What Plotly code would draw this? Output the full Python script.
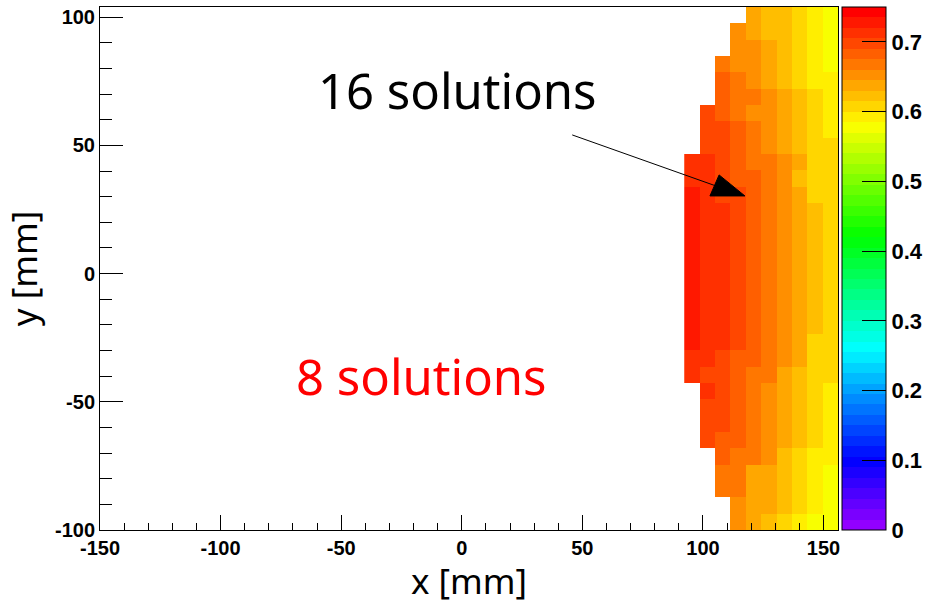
import colorsys
import plotly.graph_objects as go

# Histogram binning (mm): 48 x-bins on [-150, 156], 32 y-bins on [-100, 104]
BIN_W = 6.375
X_MIN, X_MAX = -150.0, 156.0
Y_MIN, Y_MAX = -100.0, 104.0
FIRST_FILLED_XBIN = 38          # bins left of this are empty
Z_MAX = 0.75

N = None
# Efficiency per bin; one row per y-bin (bottom to top), columns = x-bins 38..47
z_rows = [
    [N,     N,     N,     0.653, 0.638, 0.623, 0.608, 0.593, 0.578, 0.578],
    [N,     N,     N,     0.653, 0.638, 0.638, 0.623, 0.608, 0.593, 0.578],
    [N,     N,     0.668, 0.668, 0.638, 0.638, 0.623, 0.608, 0.593, 0.578],
    [N,     N,     0.668, 0.668, 0.638, 0.638, 0.623, 0.608, 0.593, 0.578],
    [N,     N,     0.683, 0.668, 0.668, 0.653, 0.623, 0.608, 0.593, 0.593],
    [N,     0.698, 0.683, 0.683, 0.668, 0.653, 0.638, 0.623, 0.608, 0.593],
    [N,     0.698, 0.698, 0.683, 0.668, 0.653, 0.638, 0.623, 0.608, 0.593],
    [N,     0.698, 0.698, 0.683, 0.668, 0.653, 0.638, 0.623, 0.608, 0.593],
    [N,     0.713, 0.698, 0.683, 0.668, 0.653, 0.638, 0.623, 0.608, 0.593],
    [0.713, 0.698, 0.698, 0.683, 0.668, 0.668, 0.638, 0.623, 0.608, 0.608],
    [0.713, 0.713, 0.698, 0.683, 0.683, 0.668, 0.653, 0.638, 0.608, 0.608],
    [0.728, 0.713, 0.713, 0.698, 0.683, 0.668, 0.653, 0.638, 0.608, 0.608],
    [0.728, 0.713, 0.713, 0.698, 0.683, 0.668, 0.653, 0.638, 0.623, 0.608],
    [0.728, 0.713, 0.713, 0.698, 0.683, 0.668, 0.653, 0.638, 0.623, 0.608],
    [0.728, 0.713, 0.713, 0.698, 0.683, 0.668, 0.653, 0.638, 0.623, 0.608],
    [0.728, 0.713, 0.713, 0.698, 0.683, 0.668, 0.653, 0.638, 0.623, 0.608],
    [0.728, 0.713, 0.713, 0.698, 0.683, 0.668, 0.653, 0.638, 0.623, 0.608],
    [0.728, 0.713, 0.713, 0.698, 0.683, 0.668, 0.653, 0.638, 0.623, 0.608],
    [0.728, 0.713, 0.713, 0.698, 0.683, 0.668, 0.653, 0.638, 0.623, 0.608],
    [0.728, 0.713, 0.713, 0.698, 0.683, 0.668, 0.653, 0.638, 0.623, 0.608],
    [0.728, 0.713, 0.698, 0.698, 0.683, 0.668, 0.653, 0.638, 0.608, 0.608],
    [0.713, 0.713, 0.698, 0.683, 0.683, 0.668, 0.653, 0.623, 0.608, 0.608],
    [0.713, 0.713, 0.698, 0.683, 0.668, 0.668, 0.653, 0.638, 0.608, 0.608],
    [N,     0.698, 0.698, 0.683, 0.668, 0.653, 0.638, 0.623, 0.608, 0.608],
    [N,     0.698, 0.698, 0.683, 0.668, 0.653, 0.638, 0.623, 0.608, 0.593],
    [N,     0.698, 0.683, 0.668, 0.653, 0.653, 0.638, 0.623, 0.608, 0.593],
    [N,     N,     0.683, 0.668, 0.668, 0.653, 0.638, 0.623, 0.608, 0.593],
    [N,     N,     0.683, 0.668, 0.653, 0.638, 0.623, 0.608, 0.593, 0.593],
    [N,     N,     0.668, 0.653, 0.653, 0.638, 0.623, 0.608, 0.593, 0.578],
    [N,     N,     N,     0.653, 0.653, 0.638, 0.623, 0.608, 0.593, 0.578],
    [N,     N,     N,     0.653, 0.638, 0.623, 0.623, 0.608, 0.593, 0.578],
    [N,     N,     N,     N,     0.638, 0.623, 0.623, 0.608, 0.593, 0.578],
]

x_ticks = [-150, -100, -50, 0, 50, 100, 150]
x_tick_labels = ["-150", "-100", "-50", "0", "50", "100", "150"]
y_ticks = [-100, -50, 0, 50, 100]
y_tick_labels = ["-100", "-50", "0", "50", "100"]
colorbar_ticks = [0, 0.1, 0.2, 0.3, 0.4, 0.5, 0.6, 0.7]
colorbar_labels = ["0", "0.1", "0.2", "0.3", "0.4", "0.5", "0.6", "0.7"]

# Text labels and arrow (data coordinates, mm)
label_16 = dict(text="16 solutions", x=-1.6, y=71.6)
label_8 = dict(text="8 solutions", x=-16.7, y=-39.9)
arrow_tail = (45.8, 54.1)
arrow_base = (104.8, 34.4)
arrow_head = [(117.4, 30.3), (106.7, 38.5), (102.9, 30.3)]


def pretty_palette(n=50):
    """Stepped violet -> red rainbow (HLS hue 280..0, L=0.5, S=1)."""
    stops = []
    for i in range(n):
        hue = 280.0 - (i + 1) * 280.0 / n
        r, g, b = colorsys.hls_to_rgb(hue / 360.0, 0.5, 1.0)
        c = f"rgb({round(r * 255)},{round(g * 255)},{round(b * 255)})"
        stops.append([i / n, c])
        stops.append([(i + 1) / n, c])
    return stops


def bold(labels):
    return [f"<b>{t}</b>" for t in labels]


TICK_FONT = dict(family="Liberation Sans, Arial, sans-serif", size=20, color="black")
CBAR_FONT = dict(family="Liberation Sans, Arial, sans-serif", size=22, color="black")
TITLE_FONT = dict(family="Noto Sans, sans-serif", size=35, color="black")

fig = go.Figure()

fig.add_trace(go.Heatmap(
    z=z_rows,
    x0=X_MIN + (FIRST_FILLED_XBIN + 0.5) * BIN_W, dx=BIN_W,
    y0=Y_MIN + 0.5 * BIN_W, dy=BIN_W,
    zmin=0, zmax=Z_MAX,
    colorscale=pretty_palette(),
    hoverongaps=False,
    colorbar=dict(
        thickness=44, thicknessmode="pixels",
        len=1, lenmode="fraction",
        x=1.0057, xanchor="left", xpad=0,
        y=0.5, yanchor="middle", ypad=0,
        outlinewidth=1, outlinecolor="black",
        tickmode="array", tickvals=colorbar_ticks, ticktext=bold(colorbar_labels),
        ticks="inside", ticklen=24, tickcolor="black", tickwidth=1,
        ticklabelposition="outside",
        tickfont=CBAR_FONT,
    ),
))

axis_common = dict(
    showline=True, linecolor="black", linewidth=1, mirror=True,
    showgrid=False, zeroline=False,
    ticks="inside", tickcolor="black", tickwidth=1,
    tickfont=TICK_FONT,
)

fig.update_xaxes(
    **axis_common,
    range=[X_MIN, X_MAX], ticklen=15,
    tickmode="array", tickvals=x_ticks, ticktext=bold(x_tick_labels),
    minor=dict(ticks="inside", ticklen=7, dtick=10, tick0=0,
               tickcolor="black", showgrid=False),
    title=dict(text="x [mm]", font=TITLE_FONT, standoff=6),
)
fig.update_yaxes(
    **axis_common,
    range=[Y_MIN, Y_MAX], ticklen=23,
    tickmode="array", tickvals=y_ticks, ticktext=bold(y_tick_labels),
    minor=dict(ticks="inside", ticklen=12, dtick=10, tick0=0,
               tickcolor="black", showgrid=False),
    title=dict(text="y [mm]", font=TITLE_FONT, standoff=8),
)

# Arrow pointing into the 16-solution region
fig.add_shape(type="line", xref="x", yref="y",
              x0=arrow_tail[0], y0=arrow_tail[1],
              x1=arrow_base[0], y1=arrow_base[1],
              line=dict(color="black", width=1))
head_path = "M " + " L ".join(f"{px},{py}" for px, py in arrow_head) + " Z"
fig.add_shape(type="path", xref="x", yref="y", path=head_path,
              fillcolor="black", line=dict(color="black", width=1))

fig.add_annotation(x=label_16["x"], y=label_16["y"], xref="x", yref="y",
                   text=label_16["text"], showarrow=False,
                   font=dict(family="Noto Sans, sans-serif", size=49, color="black"))
fig.add_annotation(x=label_8["x"], y=label_8["y"], xref="x", yref="y",
                   text=label_8["text"], showarrow=False,
                   font=dict(family="Noto Sans, sans-serif", size=49, color="red"))

fig.update_layout(
    width=927, height=604,
    margin=dict(l=100, r=89, t=7, b=74, autoexpand=False),
    paper_bgcolor="white", plot_bgcolor="white",
    showlegend=False,
)

fig.write_html("out.html")
